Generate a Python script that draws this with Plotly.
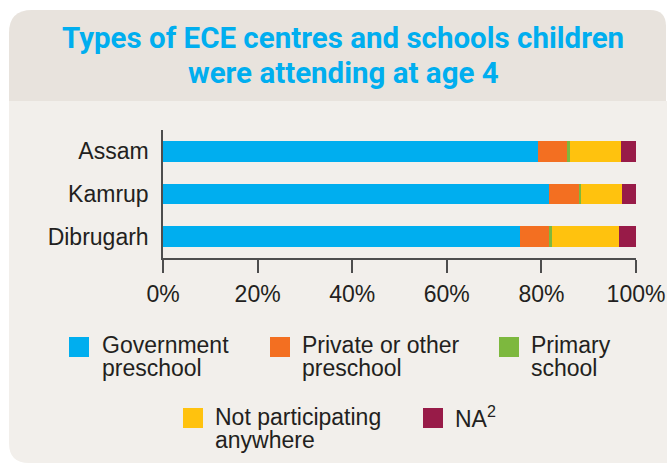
import plotly.graph_objects as go

# ---------------- data ----------------
regions = ["Assam", "Kamrup", "Dibrugarh"]
series_names = ["Government<br>preschool", "Private or other<br>preschool", "Primary<br>school",
                "Not participating<br>anywhere", "NA<sup>2</sup>"]
government = [79.2, 81.5, 75.4]
private_other = [6.3, 6.6, 6.1]
primary = [0.5, 0.2, 0.7]
not_participating = [10.8, 8.7, 14.1]
na = [3.2, 3.0, 3.7]
x_tickvals = [0, 20, 40, 60, 80, 100]
x_ticktext = ["0%", "20%", "40%", "60%", "80%", "100%"]
title_lines = ["Types of ECE centres and schools children", "were attending at age 4"]

colors = ["#00AEEF", "#F36F21", "#7DB83E", "#FFC20E", "#981B48"]
series_values = [government, private_other, primary, not_participating, na]

# ---------------- geometry (px) ----------------
W, H = 667, 463
L, R, T, B = 163, 31, 130, 205
PW, PH = W - L - R, H - T - B

def X(px):
    return (px - L) / PW

def Y(py):
    return (T + PH - py) / PH

TEXT = "#231F20"
AXIS = "#4D4D4D"
FONT = "Liberation Sans, Arial, sans-serif"
FS = 23

fig = go.Figure()
for name, vals, col in zip(series_names, series_values, colors):
    fig.add_trace(go.Bar(
        y=regions, x=vals, name=name, orientation="h",
        marker=dict(color=col, line=dict(width=0)),
        showlegend=False, hoverinfo="x+y",
    ))

shapes = []
# card header band (rounded top corners)
x0, x1, y0, yb = 9, 666, 10, 101
r1, r2 = 23, 16
path_head = (f"M {X(x0)},{Y(yb)} L {X(x0)},{Y(y0 + r1)} Q {X(x0)},{Y(y0)} {X(x0 + r1)},{Y(y0)} "
             f"L {X(x1 - r2)},{Y(y0)} Q {X(x1)},{Y(y0)} {X(x1)},{Y(y0 + r2)} L {X(x1)},{Y(yb)} Z")
shapes.append(dict(type="path", xref="paper", yref="paper", path=path_head,
                   fillcolor="#E8E3DD", line=dict(width=0), layer="below"))
# card body (rounded bottom-left)
ye, r3 = 463, 20
path_body = (f"M {X(x0)},{Y(yb)} L {X(x1 + 2)},{Y(yb)} L {X(x1 + 2)},{Y(ye + 2)} "
             f"L {X(x0 + r3)},{Y(ye)} Q {X(x0)},{Y(ye)} {X(x0)},{Y(ye - r3)} Z")
shapes.append(dict(type="path", xref="paper", yref="paper", path=path_body,
                   fillcolor="#F2EFEB", line=dict(width=0), layer="below"))

annotations = []
# title
title_baselines = [47.7, 83.3]
TFS = 29.5
for line, bl in zip(title_lines, title_baselines):
    annotations.append(dict(
        xref="paper", yref="paper", x=X(343), y=Y(bl - 0.34 * TFS),
        xanchor="center", yanchor="middle", showarrow=False, text=f"<b>{line}</b>",
        font=dict(family="Roboto, Arial, sans-serif", size=TFS, color="#00AEEF"),
    ))

# legend (squares + two-line labels)
legend_pos = [  # (square left, square top, text left, first baseline)
    (69, 337, 100, 353),
    (270, 337, 300, 353),
    (499, 337, 529, 353),
    (183, 408, 213, 425),
    (423, 408, 453, 425),
]
SQ = 20
LINE_GAP = 22.5
for name, col, (sx, sy, tx, bl) in zip(series_names, colors, legend_pos):
    shapes.append(dict(type="rect", xref="paper", yref="paper",
                       x0=X(sx), x1=X(sx + SQ), y0=Y(sy), y1=Y(sy + SQ),
                       fillcolor=col, line=dict(width=0)))
    for i, part in enumerate(name.split("<br>")):
        annotations.append(dict(
            xref="paper", yref="paper", x=X(tx), y=Y(bl + i * LINE_GAP - 0.3465 * FS),
            xanchor="left", yanchor="middle", showarrow=False, text=part,
            font=dict(family=FONT, size=FS, color=TEXT),
        ))

fig.update_layout(
    width=W, height=H, autosize=False,
    margin=dict(l=L, r=R, t=T, b=B, pad=0, autoexpand=False),
    barmode="stack", bargap=0.51,
    paper_bgcolor="white", plot_bgcolor="rgba(0,0,0,0)",
    shapes=shapes, annotations=annotations,
    font=dict(family=FONT, size=FS, color=TEXT),
    showlegend=False,
)
fig.update_xaxes(
    automargin=False,
    range=[0, 100], tickvals=x_tickvals, ticktext=x_ticktext,
    showgrid=False, zeroline=False, showline=True, linecolor=AXIS, linewidth=1.5,
    ticks="outside", ticklen=13, tickcolor=AXIS, tickwidth=1.5,
    tickfont=dict(family=FONT, size=FS, color=TEXT), ticklabelstandoff=2,
)
fig.update_yaxes(
    automargin=False,
    autorange=False, range=[2.5, -0.5],
    showgrid=False, zeroline=False, showline=True, linecolor=AXIS, linewidth=1.5,
    ticks="", tickfont=dict(family=FONT, size=FS, color=TEXT), ticklabelstandoff=8,
)

fig.write_html(
    "out.html",
    config={"displayModeBar": False, "responsive": False},
    post_script="document.body.style.margin='0';document.body.style.overflow='hidden';",
)
